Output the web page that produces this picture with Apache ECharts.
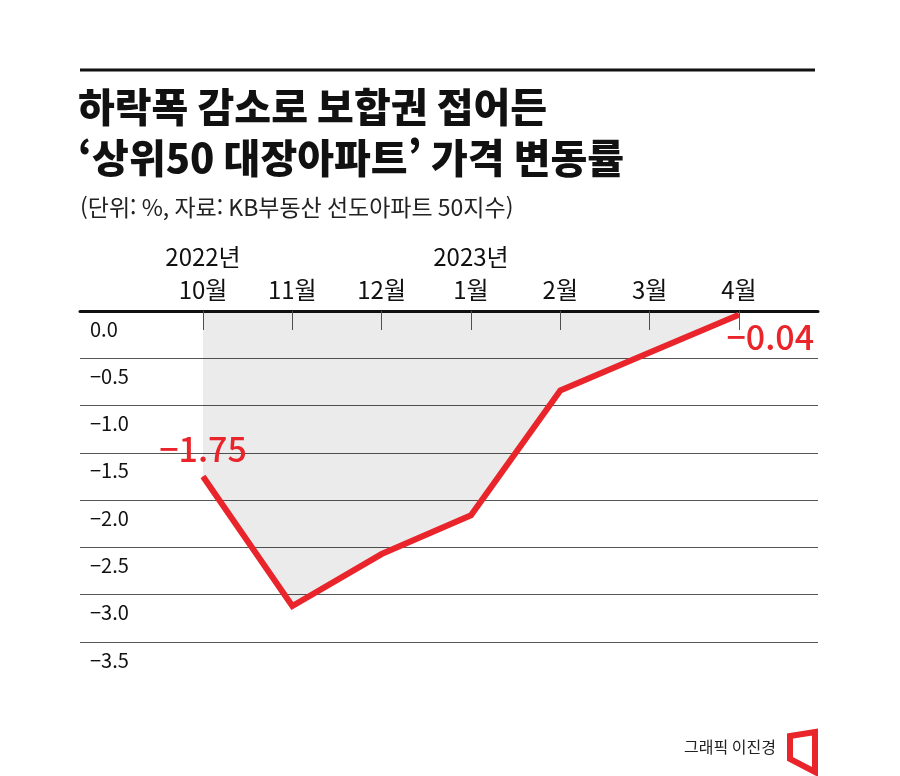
<!DOCTYPE html>
<html lang="ko">
<head>
    <meta charset="UTF-8">
    <title>상위50 대장아파트 가격 변동률</title>
    <script src="https://cdn.jsdelivr.net/npm/echarts@6.0.0/dist/echarts.min.js"></script>
    <style>
    html, body { margin: 0; padding: 0; width: 100%; height: 100%; background: #fff; }
    #chart { width: 900px; height: 776px; }
    </style>
</head>
<body>
    <div id="chart"></div>
    <script type="text/javascript">
        // 월 (x축 라벨)
        var months = ['10월', '11월', '12월', '1월', '2월', '3월', '4월'];
        // 연도 표시 (해당 월 위에)
        var years = ['2022년', '', '', '2023년', '', '', ''];
        // 상위50 대장아파트 월간 변동률 (%)
        var rates = [-1.75, -3.12, -2.57, -2.16, -0.84, -0.44, -0.04];
        // y축 눈금
        var yMin = -3.5, yMax = 0, yStep = 0.5;

        var RED = '#e9242a';
        var FONT = '"Noto Sans CJK KR", "Noto Sans", sans-serif';

        function fmtMinus(v, digits) {
            var s = Math.abs(v).toFixed(digits);
            return v < 0 ? '\u2212' + s : s;
        }

        var idx = months.map(function (m, i) { return i; });
        var seriesData = rates.map(function (v, i) {
            var item = { value: [i, v] };
            if (i === 0) {
                item.label = { show: true, position: 'top', distance: 10 };
            } else if (i === rates.length - 1) {
                // 마지막 값은 점 오른쪽 아래에
                item.label = { show: true, position: [-12, 23], align: 'left', verticalAlign: 'middle' };
            }
            return item;
        });

        var chart = echarts.init(document.getElementById('chart'));
        var option = {
            backgroundColor: '#fff',
            animation: false,
            textStyle: { fontFamily: FONT },
            grid: { left: 80, right: 82, top: 311, bottom: 134 },
            xAxis: {
                type: 'value',
                position: 'top',
                min: -1.377,
                max: 6.885,
                axisLine: { show: true, lineStyle: { color: '#111', width: 3 } },
                axisTick: {
                    show: true, inside: true, length: 19, customValues: idx,
                    lineStyle: { color: '#555', width: 1 }
                },
                axisLabel: {
                    customValues: idx,
                    margin: 5,
                    fontSize: 24,
                    lineHeight: 33,
                    color: '#111',
                    fontFamily: FONT,
                    formatter: function (v) {
                        var i = Math.round(v);
                        return years[i] ? years[i] + '\n' + months[i] : months[i];
                    }
                },
                splitLine: { show: false }
            },
            yAxis: {
                type: 'value',
                min: yMin,
                max: yMax,
                interval: yStep,
                axisLine: { show: false },
                axisTick: { show: false },
                axisLabel: {
                    inside: true,
                    margin: 10,
                    fontSize: 20,
                    color: '#111',
                    verticalAlign: 'top',
                    padding: [8, 0, 0, 0],
                    fontFamily: FONT,
                    formatter: function (v) { return fmtMinus(v, 1); }
                },
                splitLine: { lineStyle: { color: '#555', width: 1 } }
            },
            series: [{
                type: 'line',
                data: seriesData,
                symbol: 'circle',
                symbolSize: 1,
                showSymbol: true,
                itemStyle: { color: RED },
                lineStyle: { color: RED, width: 6, join: 'miter', cap: 'butt' },
                areaStyle: { color: 'rgba(0,0,0,0.115)', origin: 'end' },
                label: {
                    color: RED,
                    fontSize: 34,
                    fontWeight: 500,
                    fontFamily: FONT,
                    formatter: function (p) { return fmtMinus(p.value[1], 2); }
                },
                labelLayout: { hideOverlap: false },
                z: 3
            }],
            graphic: [
                { type: 'line', shape: { x1: 80, y1: 70, x2: 815, y2: 70 },
                  style: { stroke: '#111', lineWidth: 3 } },
                { type: 'text', x: 78, y: 107,
                  style: { text: '하락폭 감소로 보합권 접어든', fontSize: 40, fontWeight: 900,
                           fontFamily: FONT, fill: '#111', verticalAlign: 'middle' } },
                { type: 'text', x: 78, y: 158,
                  style: { text: '\u2018상위50 대장아파트\u2019 가격 변동률', fontSize: 40, fontWeight: 900,
                           fontFamily: FONT, fill: '#111', verticalAlign: 'middle' } },
                { type: 'text', x: 80, y: 207,
                  style: { text: '(단위: %, 자료: KB부동산 선도아파트 50지수)', fontSize: 23,
                           fontFamily: FONT, fill: '#222', verticalAlign: 'middle' } },
                { type: 'text', x: 776, y: 747,
                  style: { text: '그래픽 이진경', fontSize: 16, fontFamily: FONT, fill: '#222',
                           align: 'right', verticalAlign: 'middle' } },
                { type: 'polygon', shape: { points: [[790, 736], [815, 732], [815, 772], [790, 759]] },
                  style: { fill: 'none', stroke: RED, lineWidth: 6, lineJoin: 'miter' } }
            ]
        };
        chart.setOption(option);
    </script>
</body>
</html>
